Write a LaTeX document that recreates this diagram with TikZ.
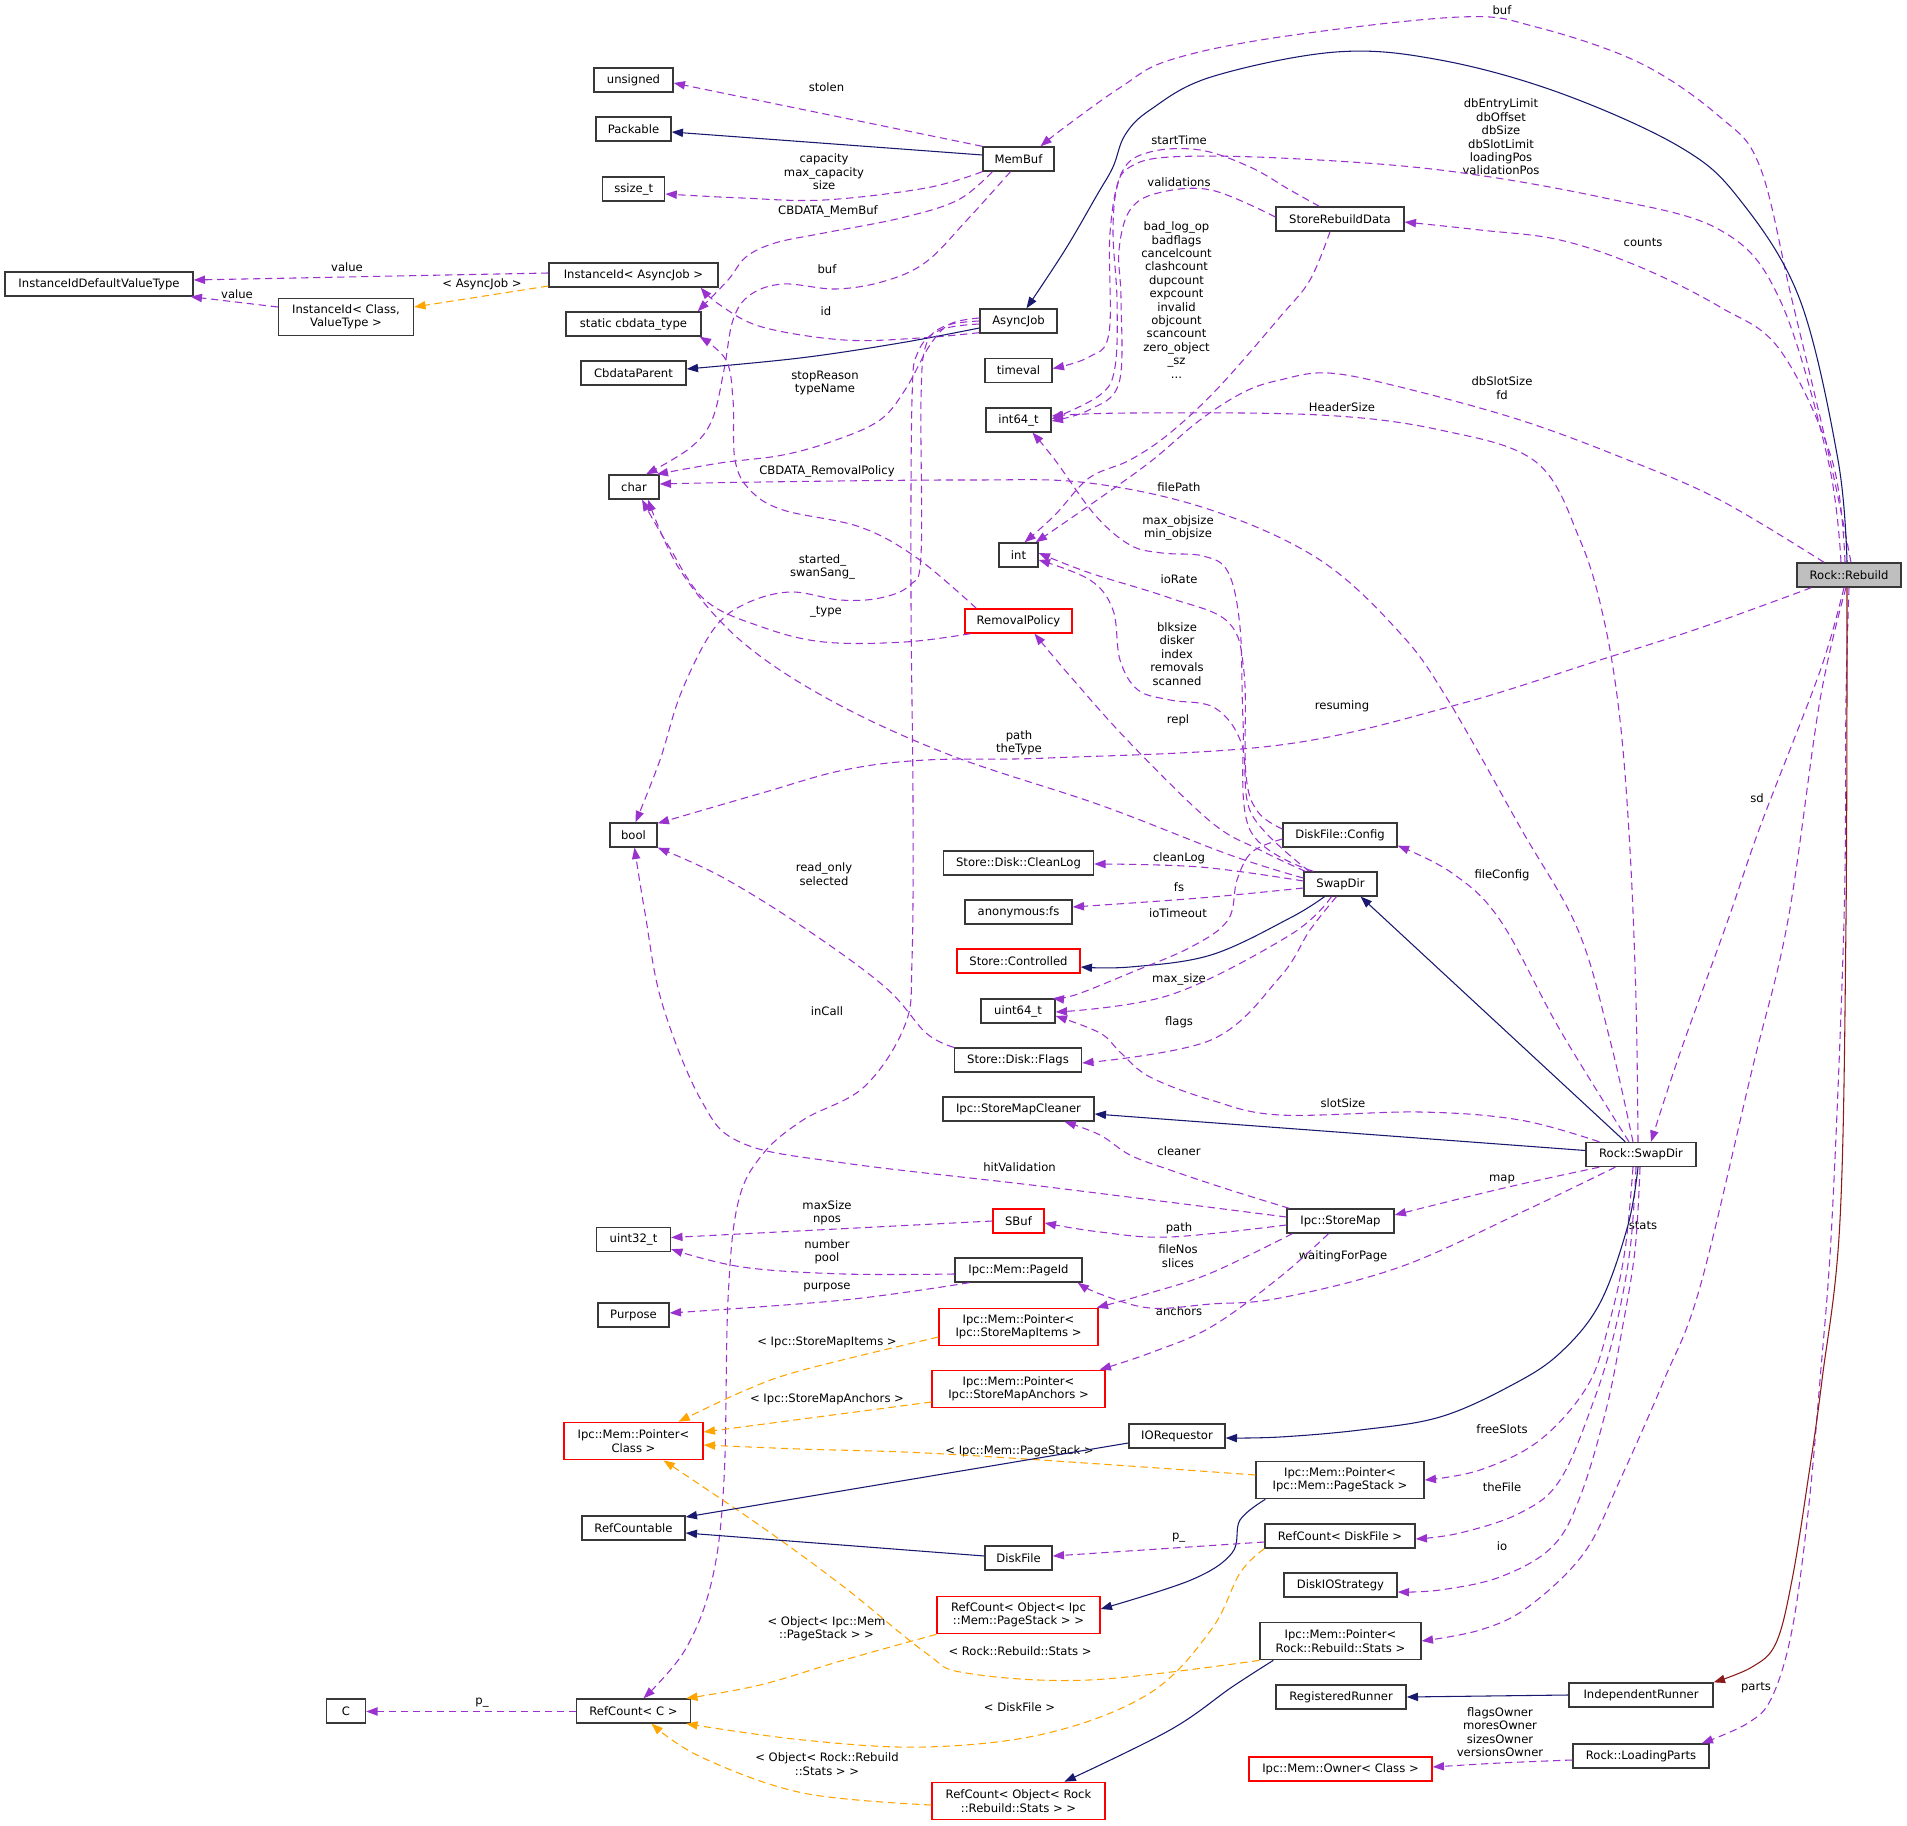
\documentclass[tikz,border=0pt]{standalone}
\usepackage{fontspec}
\setmainfont{DejaVu Sans}
\usetikzlibrary{arrows.meta,calc}
\definecolor{pur}{HTML}{9A32CD}
\definecolor{nav}{HTML}{191970}
\definecolor{org}{HTML}{FFA500}
\definecolor{fbk}{HTML}{8B1A1A}
\definecolor{gry}{HTML}{BFBFBF}
\definecolor{bdr}{HTML}{383838}
\tikzset{
  every node/.style={font=\fontsize{8.7}{10.05}\selectfont},
  cls/.style={draw=bdr, line width=1pt, fill=white, inner sep=0pt, minimum height=18pt, align=center},
  cls2/.style={cls, minimum height=28pt},
  inc/.style={draw=red},
  bw/.style={minimum width=0.75pt*#1},
  lbl/.style={inner sep=0pt, align=center},
  tip/.style={-{Triangle[length=8.5pt,width=6.2pt]}},
  pe/.style={draw=pur, line width=0.8pt, dash pattern=on 5.5pt off 3.5pt, tip},
  te/.style={draw=org, line width=0.8pt, dash pattern=on 5.5pt off 3.5pt, tip},
  ie/.style={draw=nav, line width=0.8pt, tip},
  fe/.style={draw=fbk, line width=0.8pt, tip},
  sm/.style={smooth, tension=0.6}
}
\begin{document}
\begin{tikzpicture}[x=0.75pt,y=-0.75pt]
\fill[white] (0,0) rectangle (1907,1826);
\useasboundingbox (0,0) rectangle (1907,1826);

% ---------- nodes ----------
\node[cls,bw=188] (iidvt) at (99,284) {InstanceIdDefaultValueType};
\node[cls2,bw=135] (iidcv) at (346,317) {InstanceId< Class,\\ValueType >};
\node[cls,bw=79] (unsigned) at (633.5,80) {unsigned};
\node[cls,bw=75] (packable) at (633.5,129) {Packable};
\node[cls,bw=62] (ssize) at (633.75,189) {ssize\_t};
\node[cls,bw=169] (iidasync) at (633.5,275) {InstanceId< AsyncJob >};
\node[cls,bw=135] (cbdata) at (633.5,324) {static cbdata\_type};
\node[cls,bw=105] (cbparent) at (633.5,373) {CbdataParent};
\node[cls,bw=50] (char) at (634,487) {char};
\node[cls,bw=47] (bool) at (633.5,835) {bool};
\node[cls,bw=74] (uint32) at (633.5,1239.5) {uint32\_t};
\node[cls,bw=71] (purpose) at (633.5,1315) {Purpose};
\node[cls2,inc,bw=139] (ptrclass) at (633.5,1441) {Ipc::Mem::Pointer<\\Class >};
\node[cls,bw=103] (refcountable) at (633.5,1528) {RefCountable};
\node[cls,bw=114] (refc) at (633.5,1711) {RefCount< C >};
\node[cls,bw=39] (cC) at (346,1711) {C};
\node[cls,bw=71] (membuf) at (1018.5,159) {MemBuf};
\node[cls,bw=77] (asyncjob) at (1018.5,321) {AsyncJob};
\node[cls,bw=67] (timeval) at (1018.5,370.5) {timeval};
\node[cls,bw=65] (int64) at (1018.5,420) {int64\_t};
\node[cls,bw=39] (int) at (1018.5,555) {int};
\node[cls,inc,bw=107] (removal) at (1018.5,621) {RemovalPolicy};
\node[cls,bw=150] (cleanlog) at (1018.5,863) {Store::Disk::CleanLog};
\node[cls,bw=107] (anonfs) at (1018.5,912) {anonymous:fs};
\node[cls,inc,bw=123] (controlled) at (1018.5,961) {Store::Controlled};
\node[cls,bw=74] (uint64) at (1018,1011) {uint64\_t};
\node[cls,bw=127] (flags) at (1018,1060) {Store::Disk::Flags};
\node[cls,bw=151] (cleaner) at (1018.5,1109) {Ipc::StoreMapCleaner};
\node[cls,inc,bw=51] (sbuf) at (1018.5,1221) {SBuf};
\node[cls,bw=127] (pageid) at (1018.5,1270) {Ipc::Mem::PageId};
\node[cls2,inc,bw=159] (ptritems) at (1018.5,1327) {Ipc::Mem::Pointer<\\Ipc::StoreMapItems >};
\node[cls2,inc,bw=173] (ptranchors) at (1018.5,1389) {Ipc::Mem::Pointer<\\Ipc::StoreMapAnchors >};
\node[cls,bw=67] (diskfile) at (1018.5,1558) {DiskFile};
\node[cls2,inc,bw=163] (rcobjipc) at (1018.5,1615) {RefCount< Object< Ipc\\::Mem::PageStack > >};
\node[cls2,inc,bw=173] (rcobjrock) at (1018.5,1801) {RefCount< Object< Rock\\::Rebuild::Stats > >};
\node[cls,bw=96] (iorequestor) at (1177,1436) {IORequestor};
\node[cls,bw=128] (srd) at (1340,219) {StoreRebuildData};
\node[cls,bw=114] (dfconfig) at (1340,835) {DiskFile::Config};
\node[cls,bw=73] (swapdir) at (1340.5,884) {SwapDir};
\node[cls,bw=107] (storemap) at (1340.5,1221) {Ipc::StoreMap};
\node[cls2,bw=168] (ptrpagestack) at (1340,1480) {Ipc::Mem::Pointer<\\Ipc::Mem::PageStack >};
\node[cls,bw=150] (rcdiskfile) at (1340,1536) {RefCount< DiskFile >};
\node[cls,bw=113] (diskio) at (1340.5,1585) {DiskIOStrategy};
\node[cls2,bw=161] (ptrstats) at (1340.5,1641) {Ipc::Mem::Pointer<\\Rock::Rebuild::Stats >};
\node[cls,bw=130] (regrunner) at (1341,1697) {RegisteredRunner};
\node[cls,inc,bw=183] (owner) at (1340.5,1769) {Ipc::Mem::Owner< Class >};
\node[cls,bw=110] (rockswapdir) at (1641,1154.5) {Rock::SwapDir};
\node[cls,bw=144] (indep) at (1641,1695) {IndependentRunner};
\node[cls,bw=136] (loading) at (1641,1756) {Rock::LoadingParts};
\node[cls,bw=104,fill=gry] (rebuild) at (1849,575) {Rock::Rebuild};

% ---------- labels ----------
\node[lbl] (l01) at (347,267) {value};
\node[lbl] (l02) at (237,294) {value};
\node[lbl] (l03) at (482,284) {< AsyncJob >};
\node[lbl] (l04) at (826.5,87) {stolen};
\node[lbl] (l05) at (824,172) {capacity\\max\_capacity\\size};
\node[lbl] (l06) at (828,211) {CBDATA\_MemBuf};
\node[lbl] (l07) at (827,269) {buf};
\node[lbl] (l08) at (826,311) {id};
\node[lbl] (l09) at (825,383) {stopReason\\typeName};
\node[lbl] (l10) at (1179,140) {startTime};
\node[lbl] (l11) at (1179,182) {validations};
\node[lbl] (l12) at (1176.5,300) {bad\_log\_op\\badflags\\cancelcount\\clashcount\\dupcount\\expcount\\invalid\\objcount\\scancount\\zero\_object\\\_sz\\...};
\node[lbl] (l13) at (1502,10) {buf};
\node[lbl] (l14) at (1501,137) {dbEntryLimit\\dbOffset\\dbSize\\dbSlotLimit\\loadingPos\\validationPos};
\node[lbl] (l15) at (1643,243) {counts};
\node[lbl] (l16) at (1502,388) {dbSlotSize\\fd};
\node[lbl] (l17) at (1342,407) {HeaderSize};
\node[lbl] (l18) at (827,471) {CBDATA\_RemovalPolicy};
\node[lbl] (l19) at (1179,487) {filePath};
\node[lbl] (l20) at (1178,528) {max\_objsize\\min\_objsize};
\node[lbl] (l21) at (822.5,567) {started\_\\swanSang\_};
\node[lbl] (l22) at (826,612) {\_type};
\node[lbl] (l23) at (1179,579) {ioRate};
\node[lbl] (l24) at (1177,654) {blksize\\disker\\index\\removals\\scanned};
\node[lbl] (l25) at (1178,720) {repl};
\node[lbl] (l26) at (1019,743) {path\\theType};
\node[lbl] (l27) at (1342,706) {resuming};
\node[lbl] (l28) at (824,874) {read\_only\\selected};
\node[lbl] (l29) at (1179,858) {cleanLog};
\node[lbl] (l30) at (1179,887) {fs};
\node[lbl] (l31) at (1178,913) {ioTimeout};
\node[lbl] (l32) at (1757,798) {sd};
\node[lbl] (l33) at (1502,875) {fileConfig};
\node[lbl] (l34) at (827,1011) {inCall};
\node[lbl] (l35) at (1179,979) {max\_size};
\node[lbl] (l36) at (1179,1022) {flags};
\node[lbl] (l37) at (1343,1103) {slotSize};
\node[lbl] (l38) at (1179,1151) {cleaner};
\node[lbl] (l39) at (1019.5,1167) {hitValidation};
\node[lbl] (l40) at (1502,1179) {map};
\node[lbl] (l41) at (827,1213) {maxSize\\npos};
\node[lbl] (l42) at (1179,1228) {path};
\node[lbl] (l43) at (1643,1226) {stats};
\node[lbl] (l44) at (827,1252) {number\\pool};
\node[lbl] (l45) at (1178,1256) {fileNos\\slices};
\node[lbl] (l46) at (1343,1256) {waitingForPage};
\node[lbl] (l47) at (827,1287) {purpose};
\node[lbl] (l48) at (1179,1311) {anchors};
\node[lbl] (l49) at (827,1342) {< Ipc::StoreMapItems >};
\node[lbl] (l50) at (827,1399) {< Ipc::StoreMapAnchors >};
\node[lbl] (l51) at (1502,1429) {freeSlots};
\node[lbl] (l52) at (1019.5,1451) {< Ipc::Mem::PageStack >};
\node[lbl] (l53) at (1502,1487) {theFile};
\node[lbl] (l54) at (1178.6,1538) {p\_};
\node[lbl] (l55) at (1502,1546) {io};
\node[lbl] (l56) at (826.5,1629) {< Object< Ipc::Mem\\::PageStack > >};
\node[lbl] (l57) at (1020,1651) {< Rock::Rebuild::Stats >};
\node[lbl] (l58) at (1756,1688) {parts};
\node[lbl] (l59) at (482,1703) {p\_};
\node[lbl] (l60) at (1019.5,1707) {< DiskFile >};
\node[lbl] (l61) at (1500,1732) {flagsOwner\\moresOwner\\sizesOwner\\versionsOwner};
\node[lbl] (l62) at (827,1764) {< Object< Rock::Rebuild\\::Stats > >};

% ---------- edges ----------
% InstanceId
\draw[pe] ($(iidasync.west)+(0,-2)$) -- ($(iidvt.east)+(0,-4)$);
\draw[te] ($(iidasync.west)+(0,11)$) -- ($(iidcv.east)+(0,-10)$);
\draw[pe] ($(iidcv.west)+(0,-10)$) -- ($(iidvt.south east)+(-3,0)$);
% MemBuf
\draw[pe] (membuf.north west) -- ($(unsigned.east)+(0,3)$);
\draw[ie] ($(membuf.west)+(0,-4)$) -- ($(packable.east)+(0,3)$);
\draw[pe] plot[sm] coordinates {(membuf.south west) (926,188) (824,200) (742,198) ($(ssize.east)+(0,5)$)};
\draw[pe] plot[sm] coordinates {($(membuf.south west)+(10,0)$) (958,200) (901,218) (824,233) (775,243) (746,257) (728,280) ($(cbdata.north east)+(-4,0)$)};
\draw[pe] plot[sm] coordinates {($(membuf.south)+(-8,0)$) (967,220) (926,262) (885,281) (836,289) (783,284) (750,295) (733,320) (724,370) (712,420) (690,448) ($(char.north)+(12,0)$)};
% AsyncJob
\draw[pe] plot[sm] coordinates {($(asyncjob.south west)+(0,-1)$) (920,338) (844,340) (762,327) (720,305) ($(iidasync.south east)+(-18,0)$)};
\draw[ie] plot[sm] coordinates {($(asyncjob.west)+(0,7)$) (900,343) (800,358) ($(cbparent.east)+(0,-4)$)};
\draw[pe] plot[sm] coordinates {($(asyncjob.west)+(0,-3)$) (950,324) (930,345) (905,390) (880,420) (836,440) (783,455) (720,463) ($(char.north east)+(-3,0)$)};
\draw[pe] plot[sm] coordinates {(asyncjob.west) (945,326) (926,345) (921,400) (921,555) (910,585) (880,598) (840,600) (790,592) (745,604) (713,630) (681,693) (660,760) ($(bool.north)+(2,0)$)};
\draw[pe] plot[sm] coordinates {($(asyncjob.west)+(0,3)$) (940,330) (918,352) (912,400) (911,600) (913,800) (912,960) (905,1025) (864,1087) (803,1120) (762,1155) (738,1203) (728,1300) (724,1480) (712,1580) (685,1650) ($(refc.north)+(10,0)$)};
% RemovalPolicy
\draw[pe] plot[sm] coordinates {($(removal.north west)+(12,0)$) (917,558) (860,527) (783,510) (750,490) (735,460) (733,400) (726,360) ($(cbdata.south east)+(-2,0)$)};
\draw[pe] plot[sm] coordinates {($(removal.south west)+(6,0)$) (905,642) (824,642) (762,627) (705,600) (668,545) ($(char.south)+(8,0)$)};
% SwapDir
\draw[pe] plot[sm] coordinates {($(swapdir.west)+(0,-6)$) (1230,855) (1100,805) (950,755) (830,700) (740,640) (680,570) ($(char.south)+(14,0)$)};
\draw[pe] plot[sm] coordinates {($(swapdir.north west)+(2,0)$) (1260,850) (1211,822) (1130,743) (1070,676) ($(removal.south)+(16,0)$)};
\draw[pe] plot[sm] coordinates {($(swapdir.north west)+(6,0)$) (1252,815) (1242,745) (1215,708) (1170,700) (1138,690) (1120,660) (1113,610) (1090,580) ($(int.east)+(0,5)$)};
\draw[pe] plot[sm] coordinates {($(swapdir.north west)+(10,0)$) (1250,830) (1243,720) (1240,627) (1228,572) (1203,556) (1162,553) (1130,545) (1095,515) (1055,460) ($(int64.south)+(14,0)$)};
\draw[pe] plot[sm] coordinates {($(swapdir.west)+(0,-3)$) (1200,867) ($(cleanlog.east)+(0,1)$)};
\draw[pe] plot[sm] coordinates {($(swapdir.west)+(0,4)$) (1200,898) ($(anonfs.east)+(0,-5)$)};
\draw[ie] plot[sm] coordinates {($(swapdir.south)+(-16,0)$) (1290,918) (1211,955) (1130,967) ($(controlled.east)+(0,6)$)};
\draw[pe] plot[sm] coordinates {($(swapdir.south)+(-9,0)$) (1290,935) (1170,995) ($(uint64.east)+(0,1)$)};
\draw[pe] plot[sm] coordinates {($(swapdir.south)+(-4,0)$) (1310,930) (1280,977) (1211,1040) ($(flags.east)+(0,3)$)};
% DiskFile::Config
\draw[pe] plot[sm] coordinates {($(dfconfig.west)+(0,-6)$) (1258,812) (1246,775) (1244,672) (1228,622) (1170,598) (1090,573) ($(int.east)+(0,-2)$)};
\draw[pe] plot[sm] coordinates {($(dfconfig.west)+(0,4)$) (1252,852) (1237,880) (1228,920) (1191,947) (1130,973) (1075,995) ($(uint64.north east)+(-3,0)$)};
% Flags
\draw[pe] plot[sm] coordinates {(flags.north west) (926,1033) (885,987) (803,927) (722,877) (bool.south east)};
% StoreMap
\draw[pe] plot[sm] coordinates {($(storemap.west)+(0,-4)$) (1048,1187) (844,1163) (742,1143) (701,1100) (662,1003) (645,913) ($(bool.south)+(1,0)$)};
\draw[pe] plot[sm] coordinates {($(storemap.north west)+(3,0)$) (1230,1190) (1170,1170) (1130,1155) (1100,1135) ($(cleaner.south)+(46,0)$)};
\draw[pe] plot[sm] coordinates {($(storemap.west)+(0,4)$) (1170,1237) (1100,1232) ($(sbuf.east)+(0,2)$)};
\draw[pe] plot[sm] coordinates {($(storemap.south west)+(6,0)$) (1211,1273) (1150,1293) ($(ptritems.north east)+(-2,0)$)};
\draw[pe] plot[sm] coordinates {($(storemap.south)+(-12,0)$) (1280,1277) (1211,1327) (1150,1353) ($(ptranchors.north east)+(-6,0)$)};
% Rock::SwapDir
\draw[pe] plot[sm] coordinates {($(rockswapdir.south west)+(14,0)$) (1504,1188) ($(storemap.east)+(0,-6)$)};
\draw[pe] plot[sm] coordinates {($(rockswapdir.south west)+(30,0)$) (1520,1213) (1400,1267) (1280,1298) (1211,1304) (1150,1308) (1100,1294) ($(pageid.south east)+(-5,0)$)};
\draw[pe] plot[sm] coordinates {($(rockswapdir.south)+(-8,0)$) (1625,1250) (1610,1320) (1588,1385) (1540,1440) (1480,1470) (ptrpagestack.east)};
\draw[pe] plot[sm] coordinates {($(rockswapdir.south)+(-5,0)$) (1630,1250) (1615,1330) (1594,1400) (1560,1480) (1520,1513) (1460,1533) ($(rcdiskfile.east)+(0,3)$)};
\draw[pe] plot[sm] coordinates {($(rockswapdir.south)+(-1,0)$) (1635,1250) (1622,1330) (1606,1410) (1580,1497) (1552,1547) (1500,1577) (1440,1590) ($(diskio.east)+(0,7)$)};
\draw[ie] plot[sm] coordinates {($(rockswapdir.south)+(-3,0)$) (1628,1225) (1600,1303) (1560,1353) (1512,1385) (1440,1417) (1360,1430) (1280,1437) ($(iorequestor.east)+(0,2)$)};
\draw[ie] ($(rockswapdir.north west)+(40,0)$) -- ($(swapdir.south east)+(-17,0)$);
\draw[ie] ($(rockswapdir.west)+(0,-4)$) -- ($(cleaner.east)+(0,5)$);
\draw[pe] plot[sm] coordinates {($(rockswapdir.north west)+(14,0)$) (1520,1120) (1420,1112) (1280,1115) (1211,1100) (1150,1077) (1121,1053) (1100,1033) ($(uint64.east)+(0,5)$)};
\draw[pe] plot[sm] coordinates {($(rockswapdir.north)+(-12,0)$) (1560,1030) (1500,920) (1452,873) ($(dfconfig.south east)+(0,-2)$)};
\draw[pe] plot[sm] coordinates {($(rockswapdir.north)+(-8,0)$) (1610,1040) (1578,930) (1520,827) (1448,700) (1400,633) (1320,560) (1211,510) (1089,483) (966,480) (762,482) ($(char.east)+(0,-3)$)};
\draw[pe] plot[sm] coordinates {($(rockswapdir.north)+(-3,0)$) (1636,1000) (1630,850) (1620,720) (1604,620) (1580,540) (1536,462) (1440,430) (1320,415) (1130,413) ($(int64.east)+(0,-4)$)};
% Rock::Rebuild
\draw[pe] plot[sm] coordinates {($(rebuild.south)+(-5,0)$) (1830,640) (1812,693) (1760,827) (1728,920) (1680,1053) ($(rockswapdir.north)+(10,0)$)};
\draw[pe] plot[sm] coordinates {($(rebuild.south)+(-3,0)$) (1820,700) (1788,920) (1752,1070) (1700,1287) (1664,1380) (1620,1480) (1584,1553) (1528,1607) (1480,1630) (ptrstats.east)};
\draw[pe] plot[sm] coordinates {(rebuild.south) (1846,700) (1844,920) (1832,1220) (1820,1380) (1808,1513) (1792,1630) (1772,1697) (1748,1723) ($(loading.north east)+(-8,0)$)};
\draw[fe] plot[sm] coordinates {($(rebuild.south)+(-2,0)$) (1846,920) (1840,1220) (1822,1380) (1808,1480) (1792,1580) (1776,1643) (1752,1667) (indep.north east)};
\draw[pe] plot[sm] coordinates {($(rebuild.north)+(-25,0)$) (1720,500) (1628,460) (1520,420) (1400,387) (1328,373) (1280,380) (1244,392) (1200,420) (1150,462) (1090,505) ($(int.north east)+(-3,0)$)};
\draw[pe] plot[sm] coordinates {($(rebuild.north)+(-8,0)$) (1828,460) (1780,300) (1720,230) (1600,197) (1440,170) (1280,158) (1170,157) (1130,167) (1117,187) (1113,233) (1117,300) (1115,367) (1100,395) ($(int64.east)+(0,-1)$)};
\draw[pe] plot[sm] coordinates {($(rebuild.north)+(-4,0)$) (1832,460) (1780,350) (1720,307) (1640,267) (1560,240) (1480,230) ($(srd.east)+(0,3)$)};
\draw[pe] plot[sm] coordinates {($(rebuild.north)+(2,0)$) (1830,460) (1792,300) (1760,167) (1720,117) (1640,63) (1536,27) (1460,17) (1280,37) (1170,60) (1121,87) (1065,127) ($(membuf.north)+(22,0)$)};
\draw[ie] plot[sm] coordinates {($(rebuild.north)+(-2,0)$) (1838,460) (1800,300) (1740,200) (1680,147) (1560,93) (1440,60) (1336,52) (1211,77) (1150,110) (1125,135) (1113,167) (1097,195) (1065,250) ($(asyncjob.north)+(8,0)$)};
\draw[pe] plot[sm] coordinates {($(rebuild.south west)+(15,0)$) (1700,628) (1600,660) (1456,705) (1280,745) (1048,758) (926,760) (844,770) (762,793) ($(bool.north east)+(0,1)$)};
% StoreRebuildData
\draw[pe] plot[sm] coordinates {($(srd.south)+(-10,0)$) (1310,280) (1280,317) (1219,387) (1170,433) (1130,460) (1089,478) (1055,515) ($(int.north)+(6,0)$)};
\draw[pe] plot[sm] coordinates {($(srd.north west)+(44,0)$) (1290,190) (1250,167) (1200,150) (1150,152) (1122,172) (1110,233) (1109,333) (1089,357) ($(timeval.east)+(0,-2)$)};
\draw[pe] plot[sm] coordinates {($(srd.west)+(0,-2)$) (1211,190) (1158,193) (1130,210) (1119,250) (1121,300) (1119,383) (1089,410) ($(int64.east)+(0,1)$)};
% lower part
\draw[pe] (sbuf.west) -- ($(uint32.east)+(0,-2)$);
\draw[pe] plot[sm] coordinates {($(pageid.west)+(0,4)$) (844,1274) (742,1267) ($(uint32.south east)+(0,-3)$)};
\draw[pe] plot[sm] coordinates {($(pageid.south west)+(15,0)$) (844,1300) ($(purpose.east)+(0,-2)$)};
\draw[te] plot[sm] coordinates {($(ptritems.west)+(0,10)$) (803,1370) (746,1390) ($(ptrclass.north)+(45,0)$)};
\draw[te] ($(ptranchors.west)+(0,13)$) -- ($(ptrclass.east)+(0,-9)$);
\draw[te] plot[sm] coordinates {($(ptrpagestack.west)+(0,-5)$) (1100,1464) (926,1453) (800,1449) ($(ptrclass.east)+(0,4)$)};
\draw[te] plot[sm] coordinates {(ptrstats.south west) (1089,1680) (966,1673) (926,1653) (844,1587) (762,1527) ($(ptrclass.south)+(30,0)$)};
\draw[ie] plot[sm] coordinates {($(ptrstats.south west)+(14,0)$) (1232,1687) (1170,1730) ($(rcobjrock.north)+(46,0)$)};
\draw[ie] plot[sm] coordinates {($(ptrpagestack.south west)+(10,0)$) (1240,1520) (1232,1553) (1191,1580) ($(rcobjipc.east)+(0,-6)$)};
\draw[ie] ($(iorequestor.west)+(0,7)$) -- ($(refcountable.east)+(0,-11)$);
\draw[ie] ($(diskfile.west)+(0,-2)$) -- ($(refcountable.east)+(0,5)$);
\draw[pe] ($(rcdiskfile.west)+(0,6)$) -- ($(diskfile.east)+(0,-2)$);
\draw[te] plot[sm] coordinates {(rcdiskfile.south west) (1240,1573) (1211,1630) (1150,1693) (1048,1733) (926,1747) (803,1740) ($(refc.south east)+(-5,0)$)};
\draw[te] plot[sm] coordinates {(rcobjipc.south west) (844,1660) (760,1685) ($(refc.north east)+(-5,0)$)};
\draw[te] plot[sm] coordinates {($(rcobjrock.west)+(0,4)$) (803,1793) (701,1757) ($(refc.south)+(18,0)$)};
\draw[pe] ($(refc.west)+(0,0.5)$) -- ($(cC.east)+(0,0.5)$);
\draw[ie] (indep.west) -- (regrunner.east);
\draw[pe] plot[sm] coordinates {($(loading.west)+(0,4)$) (1500,1763) ($(owner.east)+(0,-2)$)};
\end{tikzpicture}
\end{document}
